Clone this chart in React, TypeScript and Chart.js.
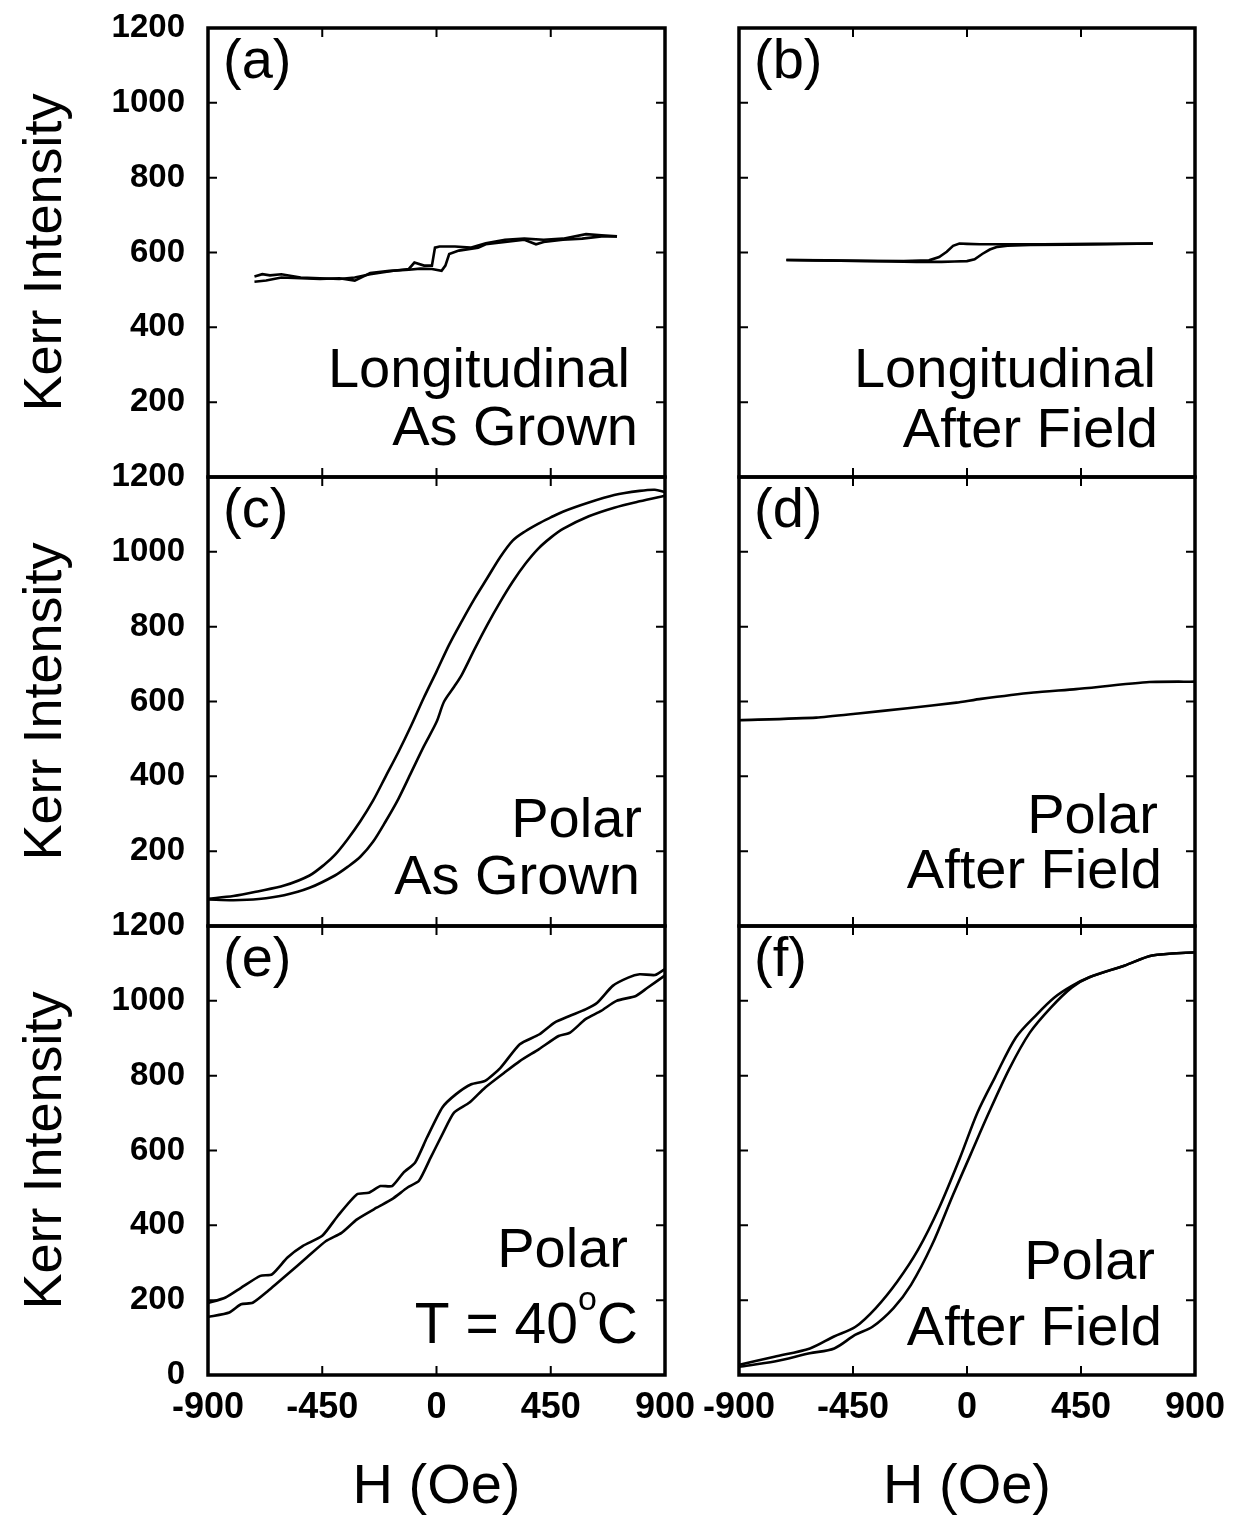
import React, { useEffect, useRef } from 'react';
import { Chart, registerables } from 'chart.js';

Chart.register(...registerables);

const FONT = '"Liberation Sans", Arimo, Arial, Helvetica, sans-serif';

const xTickValues = [-900, -450, 0, 450, 900];
const yTickValues = [0, 200, 400, 600, 800, 1000, 1200];

// (a) Longitudinal, as grown
const aUpH = [-717, -671, -611, -535, -459, -383, -322, -261, -185, -109, -64, -18, 20, 35, 50, 88, 164, 194, 270, 346, 392, 422, 498, 574, 650, 711];
const aUpV = [522, 525, 533, 531, 529, 531, 525, 545, 551, 554, 557, 556, 551, 565, 596, 605, 613, 622, 628, 634, 622, 628, 634, 637, 643, 643];
const aDownH = [711, 650, 589, 498, 422, 346, 270, 194, 134, 73, 12, -6, -18, -49, -87, -109, -170, -261, -322, -383, -459, -535, -611, -656, -686, -717];
const aDownV = [643, 646, 649, 637, 634, 637, 634, 625, 613, 616, 616, 613, 565, 565, 573, 556, 551, 542, 533, 529, 531, 533, 542, 539, 542, 536];

// (b) Longitudinal, after field
const bUpH = [-713, -600, -500, -400, -300, -200, -100, -50, 0, 30, 60, 90, 120, 160, 250, 400, 550, 734];
const bUpV = [580, 579, 578, 577, 576, 575, 575, 576, 577, 582, 596, 608, 615, 618, 620, 621, 622, 624];
const bDownH = [734, 500, 300, 150, 50, 0, -30, -55, -80, -110, -150, -250, -400, -550, -713];
const bDownV = [624, 623, 622, 622, 622, 623, 624, 618, 602, 588, 579, 577, 578, 579, 580];

// (c) Polar, as grown
const cLeftH = [-900, -800, -700, -600, -500, -440, -400, -350, -300, -250, -200, -150, -100, -50, 0, 50, 100, 150, 200, 250, 300, 350, 400, 450, 500, 600, 700, 800, 860, 900];
const cLeftV = [73, 80, 93, 108, 135, 165, 190, 232, 280, 335, 400, 465, 535, 610, 680, 752, 815, 875, 930, 985, 1030, 1055, 1075, 1092, 1108, 1132, 1152, 1163, 1166, 1160];
const cRightH = [-900, -800, -700, -600, -500, -400, -350, -300, -250, -200, -150, -100, -50, 0, 30, 70, 100, 150, 200, 250, 300, 350, 400, 450, 500, 600, 700, 800, 900];
const cRightV = [71, 69, 72, 82, 102, 135, 158, 185, 225, 280, 340, 410, 480, 545, 600, 640, 672, 740, 805, 865, 920, 968, 1008, 1038, 1062, 1095, 1118, 1135, 1150];

// (d) Polar, after field
const dH = [-900, -595, -430, -235, -42, 55, 263, 430, 720, 900];
const dV = [550, 557, 568, 582, 597, 607, 624, 633, 652, 653];

// (e) Polar, T = 40 C
const eUpperH = [-900, -831, -770, -694, -648, -587, -526, -450, -389, -313, -267, -221, -175, -130, -84, -38, 23, 76, 137, 191, 252, 328, 404, 465, 526, 587, 633, 694, 755, 800, 861, 900];
const eUpperV = [192, 207, 233, 265, 269, 314, 345, 372, 425, 483, 487, 505, 505, 541, 568, 634, 715, 750, 777, 786, 821, 884, 910, 942, 960, 977, 995, 1040, 1062, 1071, 1069, 1085];
const eLowerH = [-900, -816, -770, -724, -663, -587, -511, -435, -374, -313, -236, -175, -114, -69, -23, 23, 69, 130, 191, 267, 328, 404, 481, 526, 587, 648, 709, 785, 831, 900];
const eLowerV = [155, 167, 189, 193, 225, 269, 314, 358, 380, 416, 447, 470, 501, 519, 581, 643, 701, 728, 768, 808, 839, 871, 906, 915, 951, 973, 1000, 1013, 1035, 1068];

// (f) Polar, after field
const fLeftH = [-900, -760, -620, -525, -440, -360, -275, -193, -110, -28, 41, 110, 193, 276, 345, 414, 483, 621, 731, 900];
const fLeftV = [27, 49, 71, 103, 129, 179, 250, 335, 447, 580, 701, 795, 902, 964, 1009, 1040, 1063, 1094, 1121, 1130];
const fRightH = [-900, -760, -621, -524, -442, -373, -290, -221, -138, -55, 14, 83, 166, 248, 331, 414, 483, 621, 731, 900];
const fRightV = [22, 36, 58, 71, 107, 129, 179, 241, 348, 482, 589, 696, 817, 915, 982, 1036, 1063, 1094, 1121, 1130];

type Part = { text: string; size: number; dy?: number };
type TextLine = { parts: Part[]; dx: number; dy: number };
type Series = { h: number[]; v: number[] };
type PanelSpec = {
  key: string;
  letter: string;
  col: 0 | 1;
  row: 0 | 1 | 2;
  tension: number;
  series: Series[];
  labels: TextLine[];
};

const big = 56;

const panels: PanelSpec[] = [
  {
    key: 'a', letter: '(a)', col: 0, row: 0, tension: 0,
    series: [{ h: aUpH, v: aUpV }, { h: aDownH, v: aDownV }],
    labels: [
      { parts: [{ text: 'Longitudinal', size: big }], dx: 35, dy: 359 },
      { parts: [{ text: 'As Grown', size: big }], dx: 27, dy: 417 },
    ],
  },
  {
    key: 'b', letter: '(b)', col: 1, row: 0, tension: 0,
    series: [{ h: bUpH, v: bUpV }, { h: bDownH, v: bDownV }],
    labels: [
      { parts: [{ text: 'Longitudinal', size: big }], dx: 39, dy: 359 },
      { parts: [{ text: 'After Field', size: big }], dx: 37, dy: 419 },
    ],
  },
  {
    key: 'c', letter: '(c)', col: 0, row: 1, tension: 0.3,
    series: [{ h: cLeftH, v: cLeftV }, { h: cRightH, v: cRightV }],
    labels: [
      { parts: [{ text: 'Polar', size: big }], dx: 23, dy: 360 },
      { parts: [{ text: 'As Grown', size: big }], dx: 25, dy: 417 },
    ],
  },
  {
    key: 'd', letter: '(d)', col: 1, row: 1, tension: 0.2,
    series: [{ h: dH, v: dV }],
    labels: [
      { parts: [{ text: 'Polar', size: big }], dx: 37, dy: 356 },
      { parts: [{ text: 'After Field', size: big }], dx: 33, dy: 411 },
    ],
  },
  {
    key: 'e', letter: '(e)', col: 0, row: 2, tension: 0.2,
    series: [{ h: eUpperH, v: eUpperV }, { h: eLowerH, v: eLowerV }],
    labels: [
      { parts: [{ text: 'Polar', size: big }], dx: 37, dy: 341 },
      { parts: [{ text: 'T = 40', size: 57 }, { text: 'o', size: 34, dy: -33 }, { text: 'C', size: 57 }], dx: 27, dy: 417 },
    ],
  },
  {
    key: 'f', letter: '(f)', col: 1, row: 2, tension: 0.3,
    series: [{ h: fLeftH, v: fLeftV }, { h: fRightH, v: fRightV }],
    labels: [
      { parts: [{ text: 'Polar', size: big }], dx: 40, dy: 353 },
      { parts: [{ text: 'After Field', size: big }], dx: 33, dy: 419 },
    ],
  },
];

// canvas geometry per column / row
const COLS = [
  { left: 0, width: 710, yWidth: 208, padRight: 45 },
  { left: 690, width: 545, yWidth: 49, padRight: 40 },
];
const ROWS = [
  { top: 0, height: 507, xHeight: 30 },
  { top: 449, height: 507, xHeight: 30 },
  { top: 898, height: 626, xHeight: 149 },
];

function makeFramePlugin(spec: PanelSpec) {
  return {
    id: 'panelFrame' + spec.key,
    afterDatasetsDraw(chart: any) {
      const { ctx, chartArea } = chart;
      const { left, right, top, bottom } = chartArea;
      const xs = chart.scales.x;
      const ys = chart.scales.y;
      ctx.save();
      ctx.strokeStyle = '#000';
      ctx.lineWidth = 2;
      ctx.beginPath();
      yTickValues.forEach((v) => {
        const p = ys.getPixelForValue(v);
        ctx.moveTo(left, p); ctx.lineTo(left + 9, p);
        ctx.moveTo(right, p); ctx.lineTo(right - 9, p);
      });
      xTickValues.forEach((v) => {
        const p = xs.getPixelForValue(v);
        ctx.moveTo(p, top); ctx.lineTo(p, top + 9);
        ctx.moveTo(p, bottom); ctx.lineTo(p, bottom - 9);
      });
      ctx.stroke();
      ctx.lineWidth = 3.5;
      ctx.strokeRect(left, top, right - left, bottom - top);

      ctx.fillStyle = '#000';
      ctx.textBaseline = 'alphabetic';
      ctx.textAlign = 'left';
      ctx.font = `56px ${FONT}`;
      ctx.fillText(spec.letter, left + 15, top + 50);

      spec.labels.forEach((line) => {
        const widths = line.parts.map((p) => {
          ctx.font = `${p.size}px ${FONT}`;
          return ctx.measureText(p.text).width;
        });
        const total = widths.reduce((s, w) => s + w, 0);
        let x = right - line.dx - total;
        line.parts.forEach((p, i) => {
          ctx.font = `${p.size}px ${FONT}`;
          ctx.fillText(p.text, x, top + line.dy + (p.dy || 0));
          x += widths[i];
        });
      });
      ctx.restore();
    },
  };
}

function Panel({ spec }: { spec: PanelSpec }) {
  const ref = useRef<HTMLCanvasElement>(null);
  const col = COLS[spec.col];
  const row = ROWS[spec.row];
  const showY = spec.col === 0;
  const showX = spec.row === 2;
  const hideZero = spec.row !== 2;

  useEffect(() => {
    const canvas = ref.current;
    if (!canvas) return;
    const chart = new Chart(canvas, {
      type: 'scatter',
      data: {
        datasets: spec.series.map((s, i) => ({
          label: `${spec.key}${i}`,
          data: s.h.map((h, j) => ({ x: h, y: s.v[j] })),
          showLine: true,
          borderColor: '#000',
          backgroundColor: '#000',
          borderWidth: 2.6,
          pointRadius: 0,
          pointHoverRadius: 0,
          tension: spec.tension,
          fill: false,
        })),
      },
      options: {
        animation: false,
        responsive: false,
        maintainAspectRatio: false,
        devicePixelRatio: 1,
        events: [],
        layout: { padding: { left: 0, top: 28, right: col.padRight, bottom: 0 } },
        plugins: {
          legend: { display: false },
          tooltip: { enabled: false },
        },
        scales: {
          x: {
            type: 'linear',
            position: 'bottom',
            min: -900,
            max: 900,
            afterBuildTicks: (scale: any) => {
              scale.ticks = xTickValues.map((v) => ({ value: v }));
            },
            grid: { display: false, drawTicks: true, tickLength: 11 },
            border: { display: false },
            ticks: {
              display: showX,
              color: '#000',
              font: { family: FONT, size: 36, weight: 'bold' },
              padding: 0,
              maxRotation: 0,
              autoSkip: false,
              callback: (v: any) => String(v),
            },
            title: {
              display: showX,
              text: 'H (Oe)',
              color: '#000',
              font: { family: FONT, size: 56, lineHeight: 1 },
              padding: { top: 0, bottom: 8 },
            },
            afterFit: (scale: any) => {
              scale.height = row.xHeight;
            },
          },
          y: {
            type: 'linear',
            position: 'left',
            min: 0,
            max: 1200,
            afterBuildTicks: (scale: any) => {
              scale.ticks = yTickValues.map((v) => ({ value: v }));
            },
            grid: { display: false, drawTicks: true, tickLength: 23 },
            border: { display: false },
            ticks: {
              display: showY,
              color: '#000',
              font: { family: FONT, size: 33, weight: 'bold' },
              padding: 0,
              autoSkip: false,
              callback: (v: any) => (hideZero && Number(v) === 0 ? '' : String(v)),
            },
            title: {
              display: showY,
              text: 'Kerr Intensity',
              color: '#000',
              font: { family: FONT, size: 54, lineHeight: 1 },
              padding: { top: 19, bottom: 0 },
            },
            afterFit: (scale: any) => {
              scale.width = col.yWidth;
            },
          },
        },
      } as any,
      plugins: [makeFramePlugin(spec)],
    });
    return () => chart.destroy();
  }, []);

  return (
    <canvas
      ref={ref}
      width={col.width}
      height={row.height}
      style={{
        position: 'absolute',
        left: col.left,
        top: row.top,
        width: col.width,
        height: row.height,
      }}
    />
  );
}

export default function App() {
  return (
    <div
      style={{
        position: 'absolute',
        left: 0,
        top: 0,
        width: 1235,
        height: 1524,
        background: '#fff',
        overflow: 'hidden',
      }}
    >
      {panels.map((p) => (
        <Panel key={p.key} spec={p} />
      ))}
    </div>
  );
}
